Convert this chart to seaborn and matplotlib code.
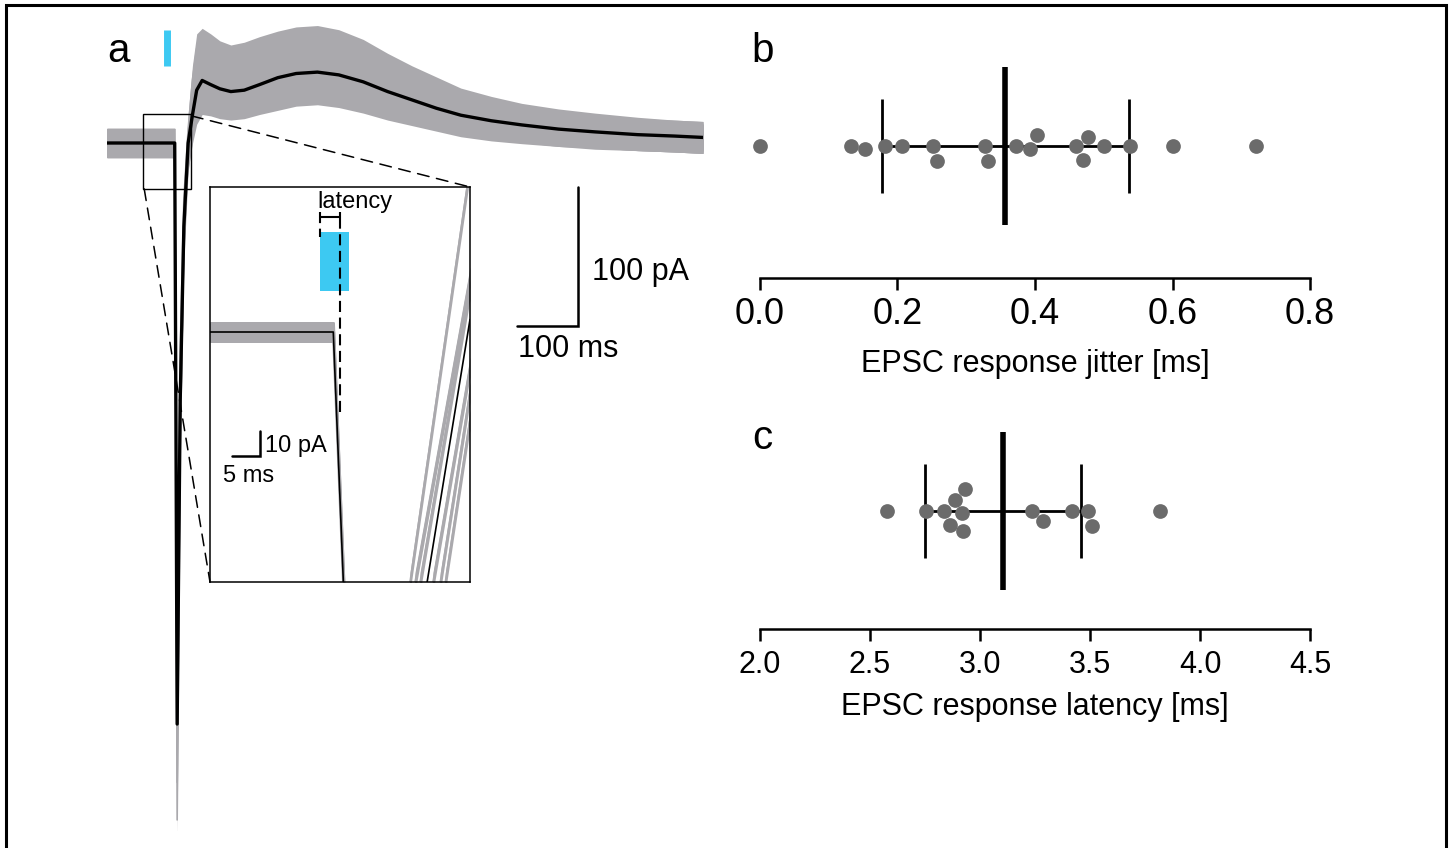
import numpy as np
import pandas as pd
import matplotlib
matplotlib.use("Agg")
import matplotlib.pyplot as plt
import seaborn as sns
from matplotlib.patches import Rectangle, ConnectionPatch

# ---------------- data ----------------
# panel a: evoked currents (time in ms, current in pA relative to baseline)
trace_time_ms = [0, 111, 113, 115, 120, 126, 133, 140, 147, 156, 170, 185, 203, 225, 250,
                 280, 310, 345, 380, 420, 460, 500, 540, 580, 630, 680, 740, 800, 870, 930, 977]
mean_epsc_pA = [0, 0, -200, -418, -185, -60, 0, 20, 38, 45, 42, 39, 37, 38, 42,
                47, 50, 51, 49, 44, 37, 31, 25, 20, 16, 13, 10, 8, 6, 5, 4]
trial_1_pA = [0, 0, -180, -380, -150, -40, 10, 45, 68, 72, 68, 63, 60, 62, 66,
              70, 73, 74, 71, 64, 54, 45, 37, 29, 23, 18, 14, 11, 8, 6, 5]
trial_2_pA = [0, 0, -210, -487, -220, -70, 0, 30, 52, 60, 57, 52, 49, 50, 55,
              60, 63, 64, 62, 56, 47, 39, 32, 25, 20, 16, 12, 10, 7, 6, 5]
trial_3_pA = [0, 0, -190, -440, -200, -65, -5, 18, 38, 47, 44, 41, 39, 40, 44,
              49, 52, 54, 52, 46, 39, 33, 27, 21, 17, 14, 11, 8, 6, 5, 4]
trial_4_pA = [0, 0, -200, -460, -210, -75, -10, 12, 28, 36, 34, 32, 30, 31, 35,
              39, 42, 43, 41, 37, 31, 26, 21, 17, 13, 11, 8, 7, 5, 4, 3]
trial_5_pA = [0, 0, -170, -400, -170, -55, -8, 10, 24, 31, 30, 28, 27, 28, 31,
              34, 37, 38, 36, 32, 27, 23, 19, 15, 12, 10, 8, 6, 5, 4, 3]
trial_6_pA = [0, 0, -220, -420, -190, -60, -3, 15, 32, 40, 38, 35, 33, 34, 38,
              42, 45, 46, 44, 39, 33, 28, 22, 18, 14, 11, 9, 7, 5, 4, 3]
stim_time_ms = 99          # light pulse marker in the overview

# inset: onset of the response (ms from inset start, pA)
inset_mean_t = [0, 22.0, 23.8, 25.5, 37.0, 38.75, 46.4]
inset_mean_pA = [0, 0, -100, -180, -170, -100, 5]
inset_trial_1_t = [0, 22.1, 23.9, 25.5, 34.0, 35.7, 46.4]
inset_trial_1_pA = [0, 0, -100, -180, -170, -100, 66]
inset_trial_2_t = [0, 22.0, 23.8, 25.5, 35.0, 36.6, 46.4]
inset_trial_2_pA = [0, 0, -100, -180, -170, -100, 22]
inset_trial_3_t = [0, 22.2, 24.0, 25.5, 36.0, 37.5, 46.4]
inset_trial_3_pA = [0, 0, -100, -180, -170, -100, 17]
inset_trial_4_t = [0, 21.9, 23.7, 25.5, 37.5, 39.8, 46.4]
inset_trial_4_pA = [0, 0, -100, -180, -170, -100, -14]
inset_trial_5_t = [0, 22.1, 23.9, 25.5, 39.0, 41.1, 46.4]
inset_trial_5_pA = [0, 0, -100, -180, -170, -100, -24]
inset_trial_6_t = [0, 22.0, 23.8, 25.5, 40.0, 42.0, 46.4]
inset_trial_6_pA = [0, 0, -100, -180, -170, -100, -35]
inset_light_on_ms = 19.6
inset_light_off_ms = 24.8
inset_latency_end_ms = 23.2

# panel b / c: per-cell values
jitter_ms = [0.0, 0.132, 0.153, 0.182, 0.206, 0.251, 0.258, 0.332, 0.327, 0.372,
             0.403, 0.393, 0.460, 0.470, 0.477, 0.500, 0.538, 0.600, 0.722]
latency_ms = [2.576, 2.756, 2.924, 2.885, 2.862, 2.838, 2.920, 2.933, 3.236, 3.288,
              3.420, 3.492, 3.510, 3.818]
jitter_ticks = [0.0, 0.2, 0.4, 0.6, 0.8]
latency_ticks = [2.0, 2.5, 3.0, 3.5, 4.0, 4.5]

# ---------------- style ----------------
sns.set_style("white")
plt.rcParams["font.family"] = ["Liberation Sans", "DejaVu Sans"]
plt.rcParams["lines.scale_dashes"] = False
plt.rcParams["text.color"] = "black"
plt.rcParams["axes.labelcolor"] = "black"
plt.rcParams["xtick.color"] = "black"
plt.rcParams["xtick.labelcolor"] = "black"

GRAY = "#aaa9ad"
DOT = "#6b6b6b"
CYAN = "#3dc9f2"
W, H = 1452, 848
fig = plt.figure(figsize=(W / 100, H / 100), dpi=100)


def ax_px(l, t, r, b):
    return fig.add_axes([l / W, 1 - b / H, (r - l) / W, (b - t) / H])


def fig_text(x, y, s, **kw):
    fig.text(x / W, 1 - y / H, s, color="black", **kw)


# ---------------- panel a: overview ----------------
ax_a = ax_px(107, 20, 703, 830)
trials = [trial_1_pA, trial_2_pA, trial_3_pA, trial_4_pA, trial_5_pA, trial_6_pA]
t_arr = np.array(trace_time_ms, dtype=float)
NOISE_MAIN = 10.5
for tr in trials:
    v = np.array(tr, dtype=float)
    ax_a.fill_between(t_arr, v - NOISE_MAIN, v + NOISE_MAIN, color=GRAY, lw=0, zorder=1)
long_a = pd.DataFrame({
    "t": np.tile(t_arr, len(trials)),
    "pA": np.concatenate([np.array(tr, float) for tr in trials]),
    "trial": np.repeat(np.arange(len(trials)), len(t_arr)),
})
sns.lineplot(data=long_a, x="t", y="pA", units="trial", estimator=None, color=GRAY,
             lw=1.2, ax=ax_a, zorder=2, legend=False)
sns.lineplot(x=trace_time_ms, y=mean_epsc_pA, color="black", lw=2.4, ax=ax_a, zorder=4)
ax_a.set_xlim(0, 977)
ax_a.set_ylim((143 - 830) / 1.39, (143 - 20) / 1.39)
ax_a.axis("off")

# light marker
ax_a.vlines(stim_time_ms, 55.4, 81.3, color=CYAN, lw=5, zorder=5)
# zoom rectangle
ax_a.add_patch(Rectangle((59.8, -33.0), 77.9, 53.9, fill=False, ec="black", lw=1.0, zorder=6))
# scale bars 100 pA / 100 ms
ax_a.plot([672, 772, 772], [-131.7, -131.7, -31.7], color="black", lw=1.8,
          solid_joinstyle="miter", clip_on=False)
fig_text(592, 280, "100 pA", fontsize=22, va="baseline", ha="left")
fig_text(518, 357, "100 ms", fontsize=22, va="baseline", ha="left")

# ---------------- inset ----------------
ax_in = ax_px(210, 187, 470, 582)
inset_ts = [inset_trial_1_t, inset_trial_2_t, inset_trial_3_t,
            inset_trial_4_t, inset_trial_5_t, inset_trial_6_t]
inset_vs = [inset_trial_1_pA, inset_trial_2_pA, inset_trial_3_pA,
            inset_trial_4_pA, inset_trial_5_pA, inset_trial_6_pA]
NOISE_IN = 4.0
for tt, vv in zip(inset_ts, inset_vs):
    tt = np.array(tt, float)
    vv = np.array(vv, float)
    ax_in.fill_between(tt, vv - NOISE_IN, vv + NOISE_IN, color=GRAY, lw=0, zorder=1)
long_in = pd.DataFrame({
    "t": np.concatenate([np.array(tt, float) for tt in inset_ts]),
    "pA": np.concatenate([np.array(vv, float) for vv in inset_vs]),
    "trial": np.concatenate([[i] * len(tt) for i, tt in enumerate(inset_ts)]),
})
sns.lineplot(data=long_in, x="t", y="pA", units="trial", estimator=None, color=GRAY,
             lw=1.2, ax=ax_in, zorder=2, legend=False, sort=False)
sns.lineplot(x=inset_mean_t, y=inset_mean_pA, color="black", lw=1.2, ax=ax_in, zorder=4,
             sort=False)
ax_in.set_xlim(0, 46.4)
ax_in.set_ylim(-100, 58)
ax_in.set_xticks([])
ax_in.set_yticks([])
ax_in.set_xlabel("")
ax_in.set_ylabel("")
for sp in ax_in.spines.values():
    sp.set_visible(True)
    sp.set_linewidth(1.1)
    sp.set_color("black")
# light pulse
ax_in.add_patch(Rectangle((inset_light_on_ms, 16.4), inset_light_off_ms - inset_light_on_ms,
                          23.6, color=CYAN, lw=0, zorder=3))
# latency bracket
ax_in.plot([inset_light_on_ms, inset_latency_end_ms], [46, 46], color="black", lw=1.5, zorder=6)
ax_in.vlines([inset_light_on_ms, inset_latency_end_ms], 44, 48, color="black", lw=1.5, zorder=6)
ax_in.vlines(inset_light_on_ms, 38, 44, color="black", lw=1.5, ls=(0, (6, 4)), zorder=6)
ax_in.vlines(inset_latency_end_ms, -32, 44, color="black", lw=1.5, ls=(0, (8, 4)), zorder=6)
fig_text(317, 208, "latency", fontsize=17, va="baseline", ha="left")
# inset scale bar 10 pA / 5 ms
ax_in.plot([3.93, 8.93, 8.93], [-49.6, -49.6, -39.6], color="black", lw=1.8,
           solid_joinstyle="miter", zorder=6)
fig_text(265, 452, "10 pA", fontsize=17, va="baseline", ha="left")
fig_text(223, 482, "5 ms", fontsize=17, va="baseline", ha="left")

# connectors
for xyA, xyB in [((138.5, 19.5), (1, 1)), ((61.0, -33.0), (0, 0))]:
    con = ConnectionPatch(xyA=xyA, coordsA=ax_a.transData, xyB=xyB, coordsB=ax_in.transAxes,
                          color="black", lw=1.1, ls=(0, (8.5, 5.5)))
    fig.add_artist(con)


# ---------------- panels b and c ----------------
def dot_panel(ax, values, ticks, xlabel, tick_size, tick_pad, labelpad, ylim):
    df = pd.DataFrame({"value": values, "group": 0})
    sns.swarmplot(data=df, x="value", y="group", orient="h", ax=ax, color=DOT,
                  size=10.6, linewidth=0, zorder=3, clip_on=False)
    m = float(np.mean(values))
    s = float(np.std(values, ddof=1))
    ax.vlines(m, -0.79, 0.79, color="black", lw=4.0, zorder=2)
    ax.vlines([m - s, m + s], -0.47, 0.47, color="black", lw=2.0, zorder=2)
    ax.hlines(0, m - s, m + s, color="black", lw=2.0, zorder=2)
    ax.set_xlim(ticks[0], ticks[-1])
    ax.set_ylim(*ylim)
    ax.set_xticks(ticks)
    ax.set_xticklabels([f"{t:.1f}" for t in ticks])
    ax.set_yticks([])
    ax.set_ylabel("")
    ax.set_xlabel(xlabel, fontsize=22, labelpad=labelpad, color="black")
    for side in ["left", "right", "top"]:
        ax.spines[side].set_visible(False)
    ax.spines["bottom"].set_linewidth(1.8)
    ax.spines["bottom"].set_color("black")
    ax.tick_params(axis="x", direction="out", length=8.6, width=1.8, color="black",
                   labelcolor="black", labelsize=tick_size, pad=tick_pad, bottom=True)
    ax.patch.set_alpha(0)


ax_b = ax_px(760, 60, 1310, 278)
dot_panel(ax_b, jitter_ms, jitter_ticks, "EPSC response jitter [ms]", 26, 5, 12, (1.32, -0.86))
ax_c = ax_px(760, 425, 1310, 629)
dot_panel(ax_c, latency_ms, latency_ticks, "EPSC response latency [ms]", 22, 6.5, 8.5,
          (1.18, -0.86))

# panel letters
fig_text(107, 62, "a", fontsize=29, va="baseline", ha="left")
fig_text(751, 62, "b", fontsize=29, va="baseline", ha="left")
fig_text(752, 449, "c", fontsize=29, va="baseline", ha="left")

# outer frame
fig.add_artist(Rectangle((6 / W, -0.02), 1440 / W, 1 - 5 / H + 0.02, transform=fig.transFigure,
                         fill=False, ec="black", lw=2.2))

fig.savefig("out.png", dpi=100, facecolor="white")
